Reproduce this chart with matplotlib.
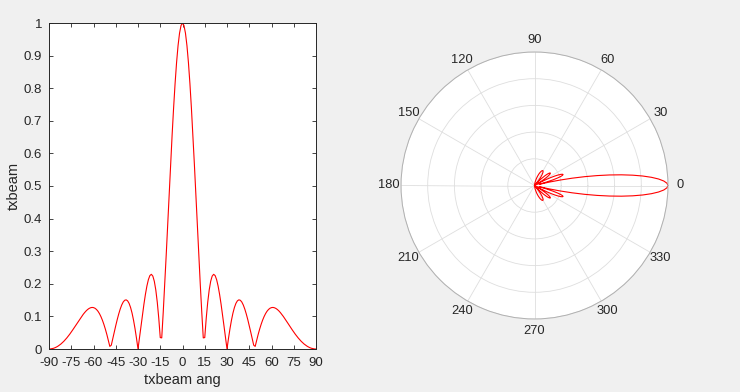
import numpy as np
import matplotlib
matplotlib.use("Agg")
import matplotlib.pyplot as plt

plt.rcParams['font.family'] = ['Liberation Sans', 'DejaVu Sans']
plt.rcParams['axes.unicode_minus'] = False

# beam pattern sampled every degree from -90 to 90
ang = list(range(-90, 91))
txbeam = [
    0.0, 0.0002, 0.0010, 0.0021, 0.0038, 0.0060, 0.0086, 0.0117, 0.0152, 0.0193,
    0.0237, 0.0286, 0.0339, 0.0396, 0.0456, 0.0520, 0.0586, 0.0654, 0.0723, 0.0793,
    0.0863, 0.0931, 0.0997, 0.1059, 0.1116, 0.1167, 0.1210, 0.1243, 0.1265, 0.1275,
    0.1270, 0.1250, 0.1213, 0.1159, 0.1086, 0.0994, 0.0884, 0.0755, 0.0608, 0.0445,
    0.0268, 0.0080, 0.0117, 0.0318, 0.0519, 0.0716, 0.0903, 0.1074, 0.1224, 0.1348,
    0.1440, 0.1494, 0.1508, 0.1477, 0.1399, 0.1273, 0.1100, 0.0881, 0.0621, 0.0324,
    0.0, 0.0344, 0.0696, 0.1044, 0.1376, 0.1676, 0.1932, 0.2128, 0.2252, 0.2291,
    0.2236, 0.2077, 0.1810, 0.1432, 0.0943, 0.0350, 0.0341, 0.1118, 0.1966, 0.2867,
    0.3800, 0.4743, 0.5672, 0.6565, 0.7396, 0.8143, 0.8785, 0.9305, 0.9687, 0.9921,
    1.0,
    0.9921, 0.9687, 0.9305, 0.8785, 0.8143, 0.7396, 0.6565, 0.5672, 0.4743, 0.3800,
    0.2867, 0.1966, 0.1118, 0.0341, 0.0350, 0.0943, 0.1432, 0.1810, 0.2077, 0.2236,
    0.2291, 0.2252, 0.2128, 0.1932, 0.1676, 0.1376, 0.1044, 0.0696, 0.0344, 0.0,
    0.0324, 0.0621, 0.0881, 0.1100, 0.1273, 0.1399, 0.1477, 0.1508, 0.1494, 0.1440,
    0.1348, 0.1224, 0.1074, 0.0903, 0.0716, 0.0519, 0.0318, 0.0117, 0.0080, 0.0268,
    0.0445, 0.0608, 0.0755, 0.0884, 0.0994, 0.1086, 0.1159, 0.1213, 0.1250, 0.1270,
    0.1275, 0.1265, 0.1243, 0.1210, 0.1167, 0.1116, 0.1059, 0.0997, 0.0931, 0.0863,
    0.0793, 0.0723, 0.0654, 0.0586, 0.0520, 0.0456, 0.0396, 0.0339, 0.0286, 0.0237,
    0.0193, 0.0152, 0.0117, 0.0086, 0.0060, 0.0038, 0.0021, 0.0010, 0.0002, 0.0,
]
xticks = list(range(-90, 91, 15))
yticks = [0, 0.1, 0.2, 0.3, 0.4, 0.5, 0.6, 0.7, 0.8, 0.9, 1]
ytick_labels = ["0", "0.1", "0.2", "0.3", "0.4", "0.5", "0.6", "0.7", "0.8", "0.9", "1"]
theta_ticks = list(range(0, 360, 30))
r_ticks = [0.2, 0.4, 0.6, 0.8, 1.0]

txt = "#262626"

fig = plt.figure(figsize=(7.4, 3.92), dpi=100, facecolor="#f0f0f0")

# left: cartesian beam
ax = fig.add_axes([49/740, 1 - 349/392, 267/740, 326/392])
ax.plot(ang, txbeam, color="red", lw=0.8)
ax.set_xlim(-90, 90)
ax.set_ylim(0, 1)
ax.set_xticks(xticks)
ax.set_yticks(yticks)
ax.set_yticklabels(ytick_labels)
ax.tick_params(direction="in", top=True, right=True, length=3, width=0.6,
               colors=txt, labelsize=9.5)
ax.tick_params(axis="x", pad=5.5)
ax.tick_params(axis="y", pad=5)
for s in ax.spines.values():
    s.set_color(txt)
    s.set_linewidth(0.7)
ax.set_xlabel("txbeam ang", fontsize=10.5, color=txt, labelpad=3)
ax.set_ylabel("txbeam", fontsize=10.5, color=txt, labelpad=2)

# right: polar beam
pax = fig.add_axes([401/740, 1 - 319/392, 267/740, 267/392], projection="polar")
pax.plot(np.deg2rad(ang), txbeam, color="red", lw=0.8)
pax.set_ylim(0, 1)
pax.set_rticks(r_ticks)
pax.set_yticklabels([])
pax.set_thetagrids(theta_ticks, [str(t) for t in theta_ticks])
pax.tick_params(axis="x", colors=txt, labelsize=9.3, pad=-2)
pax.grid(True, color="#dedede", lw=0.6)
pax.spines["polar"].set_color("#b0b0b0")
pax.spines["polar"].set_linewidth(0.7)

fig.savefig("out.png", dpi=100, facecolor=fig.get_facecolor())
